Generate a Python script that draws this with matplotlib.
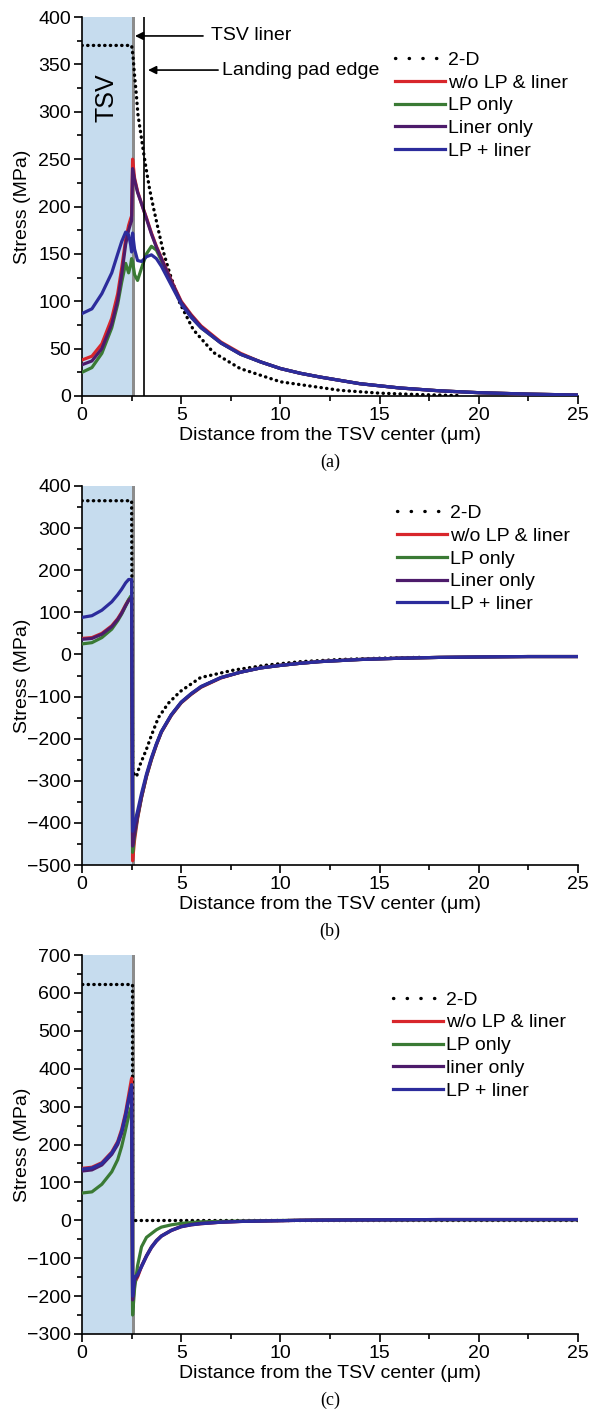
import matplotlib
matplotlib.use("Agg")
import matplotlib.pyplot as plt
from matplotlib.lines import Line2D
from matplotlib.ticker import MultipleLocator

plt.rcParams['font.family'] = ['Liberation Sans', 'DejaVu Sans']
plt.rcParams['font.size'] = 14

# line colours for the four 3-D cases
C_RED = '#d8262b'
C_GREEN = '#3a7a34'
C_PURPLE = '#4d1b6b'
C_BLUE = '#2c2c9c'
TSV_FILL = '#c6dcee'
LINER_GRAY = '#8c8c8c'

labels_ab = ['2-D', 'w/o LP & liner', 'LP only', 'Liner only', 'LP + liner']
labels_c = ['2-D', 'w/o LP & liner', 'LP only', 'liner only', 'LP + liner']

# radial positions (um): inside the TSV, then in the silicon
x_in = [0, 0.5, 1.0, 1.5, 1.8, 2.0, 2.2, 2.35, 2.45, 2.5]
x_out = [2.55, 2.65, 2.8, 3.0, 3.25, 3.5, 3.75, 4.0, 4.5, 5, 5.5, 6, 7, 8, 9,
         10, 11, 12, 14, 16, 18, 20, 22.5, 25]
x_3d = x_in + x_out

# (a)
a_2d_x = [0, 2.5, 2.57, 2.65, 2.74, 2.82, 2.99, 3.11, 3.24, 3.41, 3.61, 3.83,
          4.09, 4.43, 4.93, 5.61, 6.62, 7.97, 10.0, 11.0, 13, 15, 17, 19]
a_2d_y = [370, 370, 359, 338, 318, 297, 273, 256, 239, 218, 198, 177,
          153, 129, 98, 70, 46, 29, 15, 12, 6, 3, 1.5, 0.5]
a_red = [38, 42, 55, 82, 108, 135, 165, 180, 187, 190,
         250, 230, 216, 203, 188, 172, 158, 146, 122, 100, 86, 74, 57, 45, 36,
         29, 24, 20, 13, 8.5, 5.5, 3.5, 2, 1]
a_green = [25, 30, 45, 72, 97, 120, 140, 130, 138, 145,
           142, 128, 122, 135, 150, 158, 154, 143, 119, 98, 84, 72, 56, 44, 36,
           29, 24, 20, 13, 8.5, 5.5, 3.5, 2, 1]
a_purple = [33, 37, 50, 76, 101, 128, 160, 175, 182, 185,
            240, 228, 215, 203, 187, 171, 157, 145, 121, 99, 85, 73, 56, 44, 36,
            29, 24, 20, 13, 8.5, 5.5, 3.5, 2, 1]
a_blue = [87, 92, 108, 130, 150, 163, 173, 170, 160, 152,
          172, 155, 143, 142, 147, 149, 145, 137, 117, 97, 83, 72, 56, 44, 36,
          29, 24, 20, 13, 8.5, 5.5, 3.5, 2, 1]

# (b)
b_2d_x = [0, 2.5, 2.55, 2.75, 2.9, 3.25, 3.5, 3.85, 4.35, 4.95, 5.97, 7.66,
          9.35, 11.05, 13, 15, 17]
b_2d_y = [365, 365, -280, -290, -265, -225, -192, -150, -116, -88, -55, -37,
          -25, -17, -12, -9, -7]
b_red = [38, 40, 50, 68, 85, 100, 118, 130, 135, 137,
         -490, -440, -390, -340, -290, -250, -215, -185, -145, -115, -95, -78,
         -56, -42, -32, -26, -21, -17, -12, -9, -7, -6, -5, -5]
b_green = [25, 28, 40, 60, 80, 96, 115, 130, 138, 140,
           -470, -430, -387, -339, -289, -249, -214, -184, -144, -114, -94, -77,
           -55, -42, -32, -26, -21, -17, -12, -9, -7, -6, -5, -5]
b_purple = [36, 38, 48, 66, 83, 98, 116, 128, 133, 135,
            -455, -425, -385, -338, -288, -248, -214, -184, -144, -114, -94, -77,
            -55, -42, -32, -26, -21, -17, -12, -9, -7, -6, -5, -5]
b_blue = [88, 92, 105, 125, 142, 155, 170, 178, 178, 178,
          -420, -400, -372, -330, -284, -245, -212, -183, -143, -113, -93, -76,
          -55, -42, -32, -26, -21, -17, -12, -9, -7, -6, -5, -5]

# (c)
c_2d_x = [0, 2.5, 2.5, 2.6, 25]
c_2d_y = [623, 623, 0, 0, 0]
c_red = [137, 140, 152, 180, 208, 240, 285, 330, 360, 375,
         -230, -165, -150, -122, -95, -72, -55, -42, -27, -17, -12, -9,
         -5, -3, -2, -1, 0, 0.5, 1, 1.5, 2, 2, 2, 2]
c_green = [72, 75, 95, 128, 160, 195, 240, 275, 295, 300,
           -250, -180, -120, -70, -45, -35, -25, -18, -12, -8, -6, -4,
           -3, -2, -1, -0.5, 0, 0.5, 1, 1, 1.5, 1.5, 1.5, 1.5]
c_purple = [130, 133, 146, 174, 200, 230, 275, 315, 340, 352,
            -210, -158, -147, -120, -93, -70, -53, -41, -26, -16, -11, -8,
            -5, -3, -2, -1, 0, 0.5, 1, 1.5, 2, 2, 2, 2]
c_blue = [135, 138, 150, 178, 205, 235, 280, 320, 345, 358,
          -200, -150, -143, -123, -95, -72, -55, -42, -27, -17, -12, -9,
          -5, -3, -2, -1, 0, 0.5, 1, 1.5, 2, 2, 2, 2]

panels = [
    dict(tag='(a)', ylim=(-0.0, 400), ymaj=50, ymin=25, labels=labels_ab,
         d2=(a_2d_x, a_2d_y), curves=[a_red, a_green, a_purple, a_blue],
         rect=[82, 17, 578, 396], leg=(0.631, 0.910)),
    dict(tag='(b)', ylim=(-500, 400), ymaj=100, ymin=50, labels=labels_ab,
         d2=(b_2d_x, b_2d_y), curves=[b_red, b_green, b_purple, b_blue],
         rect=[82, 486, 578, 865], leg=(0.635, 0.952)),
    dict(tag='(c)', ylim=(-300, 700), ymaj=100, ymin=50, labels=labels_c,
         d2=(c_2d_x, c_2d_y), curves=[c_red, c_green, c_purple, c_blue],
         rect=[82, 955, 578, 1334], leg=(0.627, 0.905)),
]

W, H = 590, 1414
fig = plt.figure(figsize=(W / 100, H / 100), dpi=100)

for p in panels:
    l, t, r, b = p['rect']
    ax = fig.add_axes([l / W, 1 - b / H, (r - l) / W, (b - t) / H])
    ax.axvspan(0, 2.5, color=TSV_FILL, lw=0, zorder=0)
    ax.axvspan(2.5, 2.68, color=LINER_GRAY, lw=0, zorder=1)

    # round dots for the 2-D solution
    ax.plot(*p['d2'], color='black', lw=2.4, linestyle=(0, (0.1, 1.6)),
            dash_capstyle='round', zorder=3)
    hs = []
    for ys, col in zip(p['curves'], [C_RED, C_GREEN, C_PURPLE, C_BLUE]):
        h, = ax.plot(x_3d, ys, color=col, lw=2.3, zorder=4)
        hs.append(h)
    # the legend key uses sparser dots
    h2d = Line2D([], [], color='black', lw=2.4, linestyle=(0, (0.1, 4.0)),
                 dash_capstyle='round')

    ax.set_xlim(0, 25)
    ax.set_ylim(*p['ylim'])
    ax.xaxis.set_major_locator(MultipleLocator(5))
    ax.xaxis.set_minor_locator(MultipleLocator(2.5))
    ax.yaxis.set_major_locator(MultipleLocator(p['ymaj']))
    ax.yaxis.set_minor_locator(MultipleLocator(p['ymin']))
    ax.tick_params(which='both', direction='out', width=1.2, labelsize=14, pad=2)
    ax.tick_params(which='major', length=6)
    ax.tick_params(which='minor', length=3.5)
    for s in ['top', 'right']:
        ax.spines[s].set_visible(False)
    for s in ['left', 'bottom']:
        ax.spines[s].set_linewidth(1.2)
    ax.set_ylabel('Stress (MPa)', fontsize=14)
    # right edge of the rotated label, so its centre sits near x = 22 px
    ax.yaxis.set_label_coords((31 - l) / (r - l), 0.5)
    ax.set_xlabel('Distance from the TSV center (\u03bcm)', fontsize=14, labelpad=2)
    ax.set_facecolor('none')

    ax.legend([h2d] + hs, p['labels'], loc='upper left', bbox_to_anchor=p['leg'],
              frameon=False, fontsize=14, handlelength=2.58, handletextpad=0.15,
              labelspacing=0.27, borderpad=0, borderaxespad=0)

    fig.text(330 / W, 1 - (b + 66) / H, p['tag'], ha='center', va='center',
             fontsize=13, family='Liberation Serif')

    if p['tag'] == '(a)':
        ax.axvline(3.14, color='black', lw=1.2, zorder=5)
        ax.text(1.26, 315, 'TSV', rotation=90, ha='center', va='center', fontsize=18)
        ax.annotate('', xy=(2.67, 380), xytext=(6.1, 380),
                    arrowprops=dict(arrowstyle='-|>', color='black', lw=1.2,
                                    mutation_scale=12, shrinkA=0, shrinkB=0))
        ax.text(6.5, 380, 'TSV liner', ha='left', va='center', fontsize=14)
        ax.annotate('', xy=(3.33, 344), xytext=(6.86, 344),
                    arrowprops=dict(arrowstyle='-|>', color='black', lw=1.2,
                                    mutation_scale=12, shrinkA=0, shrinkB=0))
        ax.text(7.05, 344, 'Landing pad edge', ha='left', va='center', fontsize=14)

fig.savefig('out.png', dpi=100)
